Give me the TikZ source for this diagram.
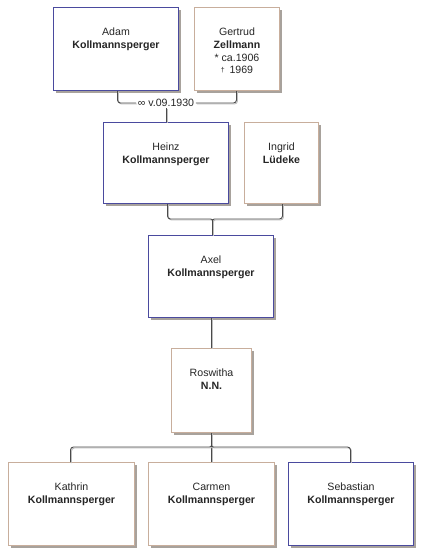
\documentclass[tikz,border=0pt]{standalone}
\usepackage{fontspec}
\setmainfont{Liberation Sans}
\usetikzlibrary{shadows}
\definecolor{maleC}{HTML}{4A4A9E}
\definecolor{femC}{HTML}{C8AE9C}
\definecolor{shadC}{HTML}{A8A29C}
\definecolor{lineC}{HTML}{4A4A4A}
\definecolor{lineS}{HTML}{BEBEBE}
\tikzset{
  pbox/.style={draw, line width=1pt, fill=white, anchor=north west, inner sep=0pt,
    general shadow={fill=shadC, shadow xshift=2.5pt, shadow yshift=-2.5pt}},
  male/.style={pbox, draw=maleC},
  fem/.style={pbox, draw=femC},
  ptext/.style={anchor=north, inner sep=0pt, align=center, font=\fontsize{10.6}{12.6}\selectfont, text=black!85},
  conn/.style={draw=lineC, line width=0.9pt, rounded corners=3pt,
    preaction={draw=lineS, line width=0.9pt, transform canvas={xshift=1pt,yshift=-1pt}}},
}
\newcommand{\bx}[6]{% name, style, x, y, w, h
  \node[#2, minimum width=#5pt, minimum height=#6pt] (#1) at (#3,#4) {};}
\begin{document}
\begin{tikzpicture}[x=1pt,y=-1pt]
\useasboundingbox[fill=white] (0,0) rectangle (428,560);
% boxes
\bx{adam}{male}{53}{7}{125}{83}
\bx{gertrud}{fem}{194}{7}{85}{83}
\bx{heinz}{male}{103}{122}{125}{81}
\bx{ingrid}{fem}{244}{122}{74}{81}
\bx{axel}{male}{148}{235}{125}{82}
\bx{roswitha}{fem}{171}{348}{80}{84}
\bx{kathrin}{fem}{8}{462}{126}{83}
\bx{carmen}{fem}{148}{462}{126}{83}
\bx{sebastian}{male}{288}{462}{125}{83}
% texts
\node[ptext] (adamt) at ([yshift=-21pt]adam.north) {Adam\\\textbf{Kollmannsperger}};
\node[ptext] (gertrudt) at ([yshift=-21pt]gertrud.north) {Gertrud\\\textbf{Zellmann}\\* ca.1906\\\raisebox{1.5pt}{\scriptsize †}\,\ 1969};
\node[ptext] (heinzt) at ([yshift=-21pt]heinz.north) {Heinz\\\textbf{Kollmannsperger}};
\node[ptext] (ingridt) at ([yshift=-21pt]ingrid.north) {Ingrid\\\textbf{Lüdeke}};
\node[ptext] (axelt) at ([yshift=-21pt]axel.north) {Axel\\\textbf{Kollmannsperger}};
\node[ptext] (roswithat) at ([yshift=-21pt]roswitha.north) {Roswitha\\\textbf{N.N.}};
\node[ptext] (kathrint) at ([yshift=-21pt]kathrin.north) {Kathrin\\\textbf{Kollmannsperger}};
\node[ptext] (carment) at ([yshift=-21pt]carmen.north) {Carmen\\\textbf{Kollmannsperger}};
\node[ptext] (sebastiant) at ([yshift=-21pt]sebastian.north) {Sebastian\\\textbf{Kollmannsperger}};
% marriage label
\node[font=\fontsize{10.6}{12}\selectfont, inner sep=1.5pt, text=black!85] (mlabel) at (166,103) {∞ v.09.1930};
% marriage connector
\draw[conn] ([xshift=1.5pt]adam.south) |- (mlabel.west);
\draw[conn] (mlabel.east) -| ([xshift=-0.5pt]gertrud.south);
\draw[conn, rounded corners=0pt] (mlabel.south -| heinz.north) -- (heinz.north);
% Heinz + Ingrid -> Axel
\coordinate (j1) at ([xshift=1.5pt,yshift=11pt]axel.north);
\draw[conn] ([xshift=1.5pt]heinz.south) |- ([xshift=-5pt,yshift=5pt]j1) .. controls ([yshift=5pt]j1) .. (j1);
\draw[conn] ([xshift=1pt]ingrid.south) |- ([xshift=5pt,yshift=5pt]j1) .. controls ([yshift=5pt]j1) .. (j1);
\draw[conn] (j1) -- (j1 |- axel.north);
% Axel -> Roswitha
\draw[conn] (axel.south -| roswitha.north) -- (roswitha.north);
% Roswitha -> children
\coordinate (j2) at ([yshift=20pt]carmen.north);
\draw[conn] (roswitha.south) -- (carmen.north);
\draw[conn] ([xshift=-1pt]kathrin.north) |- ([xshift=-5pt,yshift=-5pt]j2) .. controls ([yshift=-5pt]j2) .. (j2);
\draw[conn] ([xshift=-0.5pt]sebastian.north) |- ([xshift=5pt,yshift=-5pt]j2) .. controls ([yshift=-5pt]j2) .. (j2);
\end{tikzpicture}
\end{document}
